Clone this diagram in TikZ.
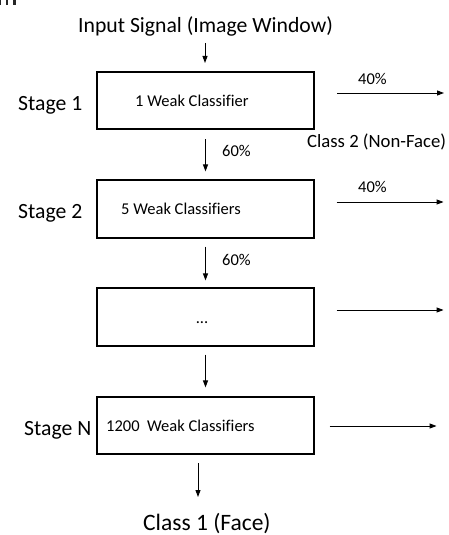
\documentclass[tikz,border=0pt]{standalone}
\usepackage{fontspec}
\setmainfont[Ligatures=NoCommon]{Carlito}
\usetikzlibrary{arrows.meta}
\tikzset{
  stagebox/.style={draw, line width=1.1pt, minimum width=217pt, inner sep=0pt},
  txt/.style={inner sep=0pt, anchor=base west},
  big/.style={font=\fontsize{21.7}{24}\selectfont},
  mid/.style={font=\fontsize{18.7}{22}\selectfont},
  small/.style={font=\fontsize{16.5}{19}\selectfont},
  arr/.style={line width=0.9pt, -{Triangle[length=7pt,width=5pt]}},
}
\begin{document}
\begin{tikzpicture}[x=1pt,y=-1pt]
\useasboundingbox (0,0) rectangle (449,535);
% cropped fragment at top left
\fill[black!85] (0,0) rectangle (1.4,5);
\fill[black!85] (5.8,0) rectangle (7.8,5);
\fill[black!85] (12.8,0) rectangle (15.6,5);

% boxes
\node[stagebox, line width=2pt, minimum height=57pt] (box1) at (205.5,100.5) {};
\node[stagebox, minimum height=58pt] (box2) at (205.5,209) {};
\node[stagebox, minimum height=58pt] (box3) at (205.5,317) {};
\node[stagebox, minimum height=57pt] (box4) at (205.5,425.5) {};

% texts
\node[txt, big] (input) at (78,32.5) {Input Signal (Image Window)};
\node[txt, big] (s1) at (18,110.7) {Stage 1};
\node[txt, small] (t1) at (135,106.7) {1 Weak Classifier};
\node[txt, small] (p40a) at (358,84.3) {40\%};
\node[txt, mid] (c2) at (307,147.7) {Class 2 (Non-Face)};
\node[txt, small] (p60a) at (222,156.7) {60\%};
\node[txt, big] (s2) at (18,218.3) {Stage 2};
\node[txt, small] (t2) at (121,214.3) {5 Weak Classifiers};
\node[txt, small] (p40b) at (358,192.7) {40\%};
\node[txt, small] (p60b) at (222,265.3) {60\%};
\node[inner sep=0pt, anchor=base, small] (t3) at (202,323.3) {...};
\node[txt, big] (sN) at (24,435) {Stage N};
\node[txt, small] (t4) at (106,431.7) {1200\ \ Weak Classifiers};
\node[txt, big, font=\fontsize{23.5}{26}\selectfont] (c1) at (143,530) {Class 1 (Face)};

% vertical connectors
\coordinate (inA) at (205,43);
\draw[arr] (inA) -- ++(0,20);
\draw[arr, shorten <=9pt, shorten >=8pt] (box1.south) -- (box2.north);
\draw[arr, shorten <=8pt, shorten >=7pt] (box2.south) -- (box3.north);
\draw[arr, shorten <=8pt, shorten >=9pt] (box3.south) -- (box4.north);
\coordinate (outA) at (198,463);
\draw[arr] (outA) -- ++(0,34);

% right connectors
\draw[arr] ([shift={(22,-7.5)}]box1.east) -- ++(107,0);
\draw[arr] ([shift={(22,-7)}]box2.east) -- ++(107,0);
\draw[arr] ([shift={(22,-7)}]box3.east) -- ++(107,0);
\draw[arr] ([shift={(15,0.5)}]box4.east) -- ++(107,0);
\end{tikzpicture}
\end{document}
